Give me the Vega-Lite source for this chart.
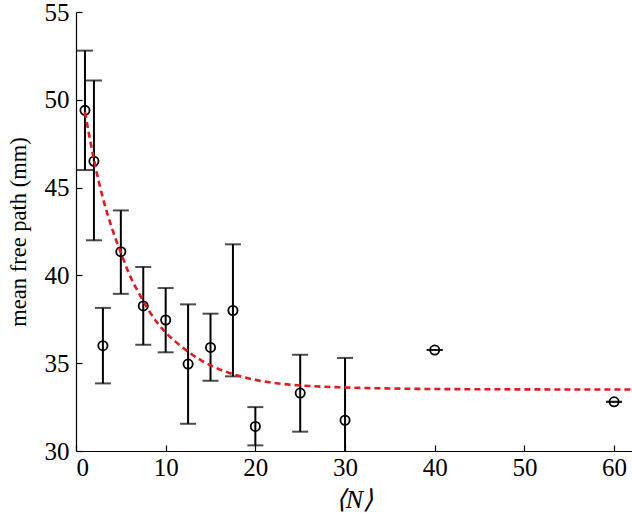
{
  "$schema": "https://vega.github.io/schema/vega-lite/v6.json",
  "autosize": "none",
  "width": 556,
  "height": 439,
  "padding": {"left": 76, "top": 12, "right": 0, "bottom": 68},
  "background": "white",
  "config": {
    "view": {"stroke": null},
    "font": "Liberation Serif",
    "axis": {
      "domainColor": "#000000",
      "domainWidth": 1.2,
      "tickColor": "#000000",
      "tickWidth": 1.2,
      "tickSize": -6,
      "grid": false,
      "labelFont": "Liberation Serif",
      "labelFontSize": 25,
      "labelColor": "#000000",
      "titleFont": "Liberation Serif",
      "titleColor": "#000000",
      "titleFontWeight": "normal"
    }
  },
  "datasets": {
    "obs": [
      {"n": 1, "mfp": 49.4, "lo": 46.0, "hi": 52.8},
      {"n": 2, "mfp": 46.5, "lo": 42.0, "hi": 51.1},
      {"n": 3, "mfp": 36.0, "lo": 33.85, "hi": 38.15},
      {"n": 5, "mfp": 41.35, "lo": 38.95, "hi": 43.7},
      {"n": 7.5, "mfp": 38.26, "lo": 36.05, "hi": 40.48},
      {"n": 10, "mfp": 37.46, "lo": 35.62, "hi": 39.28},
      {"n": 12.5, "mfp": 34.95, "lo": 31.55, "hi": 38.35},
      {"n": 15, "mfp": 35.9, "lo": 34.0, "hi": 37.82},
      {"n": 17.5, "mfp": 38.0, "lo": 34.25, "hi": 41.77},
      {"n": 20, "mfp": 31.4, "lo": 30.32, "hi": 32.5},
      {"n": 25, "mfp": 33.3, "lo": 31.1, "hi": 35.48},
      {"n": 30, "mfp": 31.75, "lo": 28.2, "hi": 35.3},
      {"n": 40, "mfp": 35.75, "lo": 35.75, "hi": 35.75},
      {"n": 60, "mfp": 32.8, "lo": 32.8, "hi": 32.8}
    ],
    "fit": [
      {"n": 1, "mfp": 49.3},
      {"n": 2, "mfp": 46.6},
      {"n": 3, "mfp": 44.4},
      {"n": 4, "mfp": 42.7},
      {"n": 5, "mfp": 41.3},
      {"n": 6, "mfp": 40.0},
      {"n": 7, "mfp": 39.0},
      {"n": 8, "mfp": 38.1},
      {"n": 9, "mfp": 37.35},
      {"n": 10, "mfp": 36.75},
      {"n": 12, "mfp": 35.85},
      {"n": 14, "mfp": 35.15},
      {"n": 16, "mfp": 34.65},
      {"n": 18, "mfp": 34.3},
      {"n": 20, "mfp": 34.05},
      {"n": 23, "mfp": 33.82},
      {"n": 26, "mfp": 33.7},
      {"n": 30, "mfp": 33.62},
      {"n": 35, "mfp": 33.56},
      {"n": 40, "mfp": 33.53},
      {"n": 50, "mfp": 33.51},
      {"n": 62, "mfp": 33.5}
    ]
  },
  "layer": [
    {
      "data": {"name": "obs"},
      "mark": {"type": "rule", "color": "#000000", "strokeWidth": 2, "clip": true},
      "encoding": {
        "x": {"field": "n", "type": "quantitative",
          "scale": {"domain": [0, 62], "nice": false},
          "axis": {"values": [0, 10, 20, 30, 40, 50, 60], "title": "⟨N⟩", "titleFontSize": 26, "titleFontStyle": "italic", "labelPadding": 10, "titlePadding": 6}},
        "y": {"field": "lo", "type": "quantitative",
          "scale": {"domain": [30, 55], "nice": false, "zero": false},
          "axis": {"values": [30, 35, 40, 45, 50, 55], "title": "mean free path (mm)", "titleFontSize": 22.5, "labelPadding": 13, "titlePadding": 14}},
        "y2": {"field": "hi"}
      }
    },
    {
      "data": {"name": "obs"},
      "mark": {"type": "tick", "orient": "horizontal", "color": "#000000", "size": 16, "thickness": 2, "clip": true},
      "encoding": {
        "x": {"field": "n", "type": "quantitative"},
        "y": {"field": "hi", "type": "quantitative"}
      }
    },
    {
      "data": {"name": "obs"},
      "mark": {"type": "tick", "orient": "horizontal", "color": "#000000", "size": 16, "thickness": 2, "clip": true},
      "encoding": {
        "x": {"field": "n", "type": "quantitative"},
        "y": {"field": "lo", "type": "quantitative"}
      }
    },
    {
      "data": {"name": "obs"},
      "mark": {"type": "point", "filled": false, "color": "#000000", "strokeWidth": 1.8, "size": 85, "opacity": 1},
      "encoding": {
        "x": {"field": "n", "type": "quantitative"},
        "y": {"field": "mfp", "type": "quantitative"}
      }
    },
    {
      "data": {"name": "fit"},
      "mark": {"type": "line", "color": "#e3191c", "strokeWidth": 2.6, "strokeDash": [6, 4], "interpolate": "monotone"},
      "encoding": {
        "x": {"field": "n", "type": "quantitative"},
        "y": {"field": "mfp", "type": "quantitative"}
      }
    }
  ]
}
